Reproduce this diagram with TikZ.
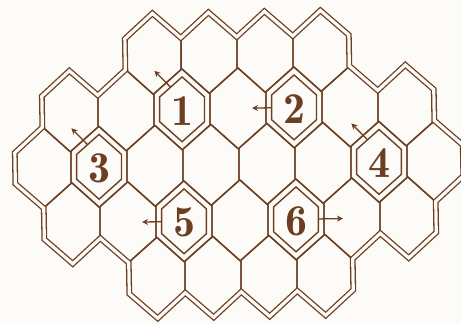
\documentclass[tikz,border=0pt]{standalone}
\usetikzlibrary{arrows.meta}
\definecolor{ink}{RGB}{108,62,34}
\definecolor{paper}{RGB}{252,251,247}
\begin{document}
\begin{tikzpicture}[x=1pt,y=-1pt,
  cell/.style={draw=ink,line width=1.3pt,line join=round},
  rim/.style={draw=ink,line width=1.3pt,double=paper,double distance=3.2pt,line join=miter},
  ring/.style={draw=ink,line width=1.4pt,line join=miter},
  num/.style={text=ink,font=\fontsize{44}{44}\fontseries{b}\selectfont,inner sep=0pt},
  pointer/.style={draw=ink,line width=1.3pt,-{Stealth[length=6pt,width=6pt]}},
  pics/hexcell/.style={code={\draw[cell] (0,-40.5) -- (28,-15.5) -- (28,15.5) -- (0,40.5) -- (-28,15.5) -- (-28,-15.5) -- cycle;}},
  pics/hexring/.style={code={\draw[ring] (0,-32.4) -- (22.4,-12.4) -- (22.4,12.4) -- (0,32.4) -- (-22.4,12.4) -- (-22.4,-12.4) -- cycle;}}
]
\fill[paper] (0,0) rectangle (461,324);
\useasboundingbox (0,0) rectangle (461,324);
\clip (0,0) rectangle (461,324);
\begin{scope}[rotate around={1:(230,162)}]
  % cells
  \foreach \x in {155,211,267,323} \pic at (\x,52.5) {hexcell};
  \foreach \x in {71,127,183,239,295,351,407} \pic at (\x,108.5) {hexcell};
  \foreach \x in {43,99,155,211,267,323,379,435} \pic at (\x,164.5) {hexcell};
  \foreach \x in {71,127,183,239,295,351,407} \pic at (\x,220.5) {hexcell};
  \foreach \x in {155,211,267,323} \pic at (\x,276.5) {hexcell};
  % outer rim
  \draw[rim] (127,37) -- (155,12) -- (183,37) -- (211,12) -- (239,37) -- (267,12) -- (295,37) -- (323,12) -- (351,37)
    -- (351,68) -- (379,93) -- (407,68) -- (435,93) -- (435,124) -- (463,149) -- (463,180) -- (435,205) -- (435,236)
    -- (407,261) -- (379,236) -- (351,261) -- (351,292) -- (323,317) -- (295,292) -- (267,317) -- (239,292)
    -- (211,317) -- (183,292) -- (155,317) -- (127,292) -- (127,261) -- (99,236) -- (71,261) -- (43,236)
    -- (43,205) -- (15,180) -- (15,149) -- (43,124) -- (43,93) -- (71,68) -- (99,93) -- (127,68) -- cycle;
  % numbered cells
  \pic at (183,108.5) {hexring};
  \pic at (295,108.5) {hexring};
  \pic at (99,164.5) {hexring};
  \pic at (379,164.5) {hexring};
  \pic at (183,220.5) {hexring};
  \pic at (295,220.5) {hexring};
  \node[num] (n1) at (183,110) {1};
  \node[num] (n2) at (295,110) {2};
  \node[num] (n3) at (99,166) {3};
  \node[num] (n4) at (379,166) {4};
  \node[num] (n5) at (183,222) {5};
  \node[num] (n6) at (295,222) {6};
  % arrows
  \coordinate (t1) at (171.8,86.1);  \coordinate (h1) at (156,69.5);
  \coordinate (t3) at (87.8,142.1);  \coordinate (h3) at (72,125.5);
  \coordinate (t4) at (367.8,142.1); \coordinate (h4) at (352,125.5);
  \coordinate (t2) at (272.6,108.5); \coordinate (h2) at (253,108.5);
  \coordinate (t5) at (160.6,220.5); \coordinate (h5) at (141,220.5);
  \coordinate (t6) at (317.4,220.5); \coordinate (h6) at (342,220.5);
  \draw[pointer] (t1) -- (h1);
  \draw[pointer] (t2) -- (h2);
  \draw[pointer] (t3) -- (h3);
  \draw[pointer] (t4) -- (h4);
  \draw[pointer] (t5) -- (h5);
  \draw[pointer] (t6) -- (h6);
\end{scope}
\end{tikzpicture}
\end{document}
